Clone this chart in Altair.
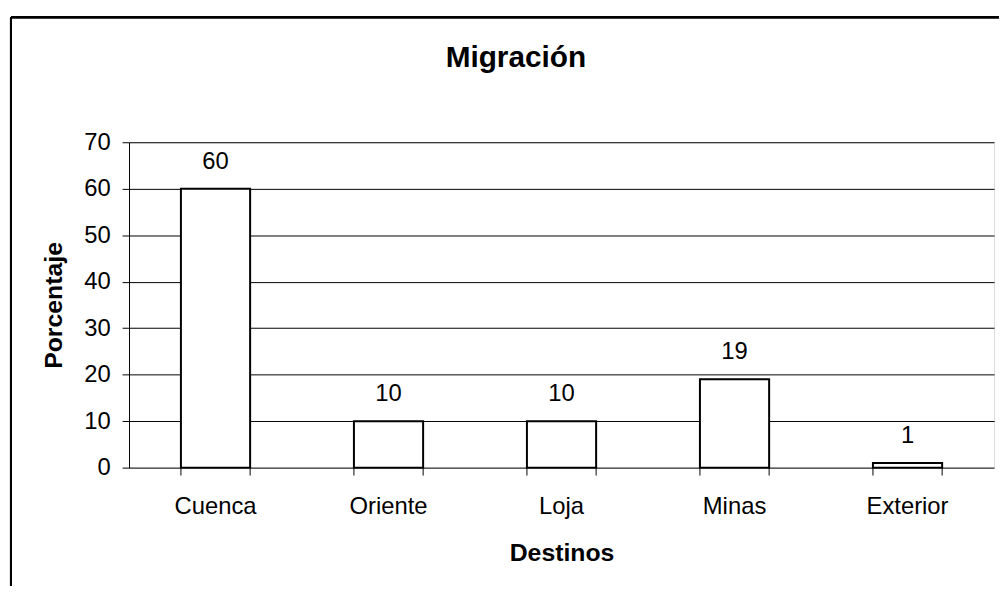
import altair as alt
import pandas as pd

categories = ["Cuenca", "Oriente", "Loja", "Minas", "Exterior"]
values = [60, 10, 10, 19, 1]
y_ticks = [0, 10, 20, 30, 40, 50, 60, 70]

df = pd.DataFrame({"Destino": categories, "Porcentaje": values})

FONT = "Liberation Sans"
W, H = 872, 328

xscale = alt.Scale(domain=categories, paddingInner=0.6, paddingOuter=0.3)
yscale = alt.Scale(domain=[0, 70], nice=False)

base = alt.Chart(df)

bars = base.mark_bar(fill="white", stroke="black", strokeWidth=2).encode(
    x=alt.X("Destino:N", scale=xscale, sort=categories,
            axis=alt.Axis(title="Destinos", labelAngle=0, ticks=False, domain=False,
                          labelFontSize=24, labelFont=FONT, labelColor="black",
                          labelPadding=27, titleFontSize=25, titleFont=FONT,
                          titleFontWeight="bold", titleColor="black", titlePadding=23)),
    y=alt.Y("Porcentaje:Q", scale=yscale,
            axis=alt.Axis(title="Porcentaje", values=y_ticks, grid=True, gridColor="black",
                          gridOpacity=1, gridWidth=1, domain=True, domainColor="black",
                          domainWidth=1, tickColor="black", tickSize=7, tickWidth=1,
                          labelFontSize=24, labelFont=FONT, labelColor="black",
                          labelPadding=12, titleFontSize=25, titleFont=FONT,
                          titleFontWeight="bold", titleColor="black", titlePadding=17)),
)

labels = base.mark_text(font=FONT, fontSize=24, color="black", baseline="alphabetic",
                        dy=-20).encode(
    x=alt.X("Destino:N", scale=xscale, sort=categories),
    y=alt.Y("Porcentaje:Q", scale=yscale),
    text=alt.Text("Porcentaje:Q"),
)

ticks_left = base.mark_rule(color="black", strokeWidth=1).encode(
    x=alt.X("Destino:N", scale=xscale, sort=categories, bandPosition=0),
    y=alt.value(H),
    y2=alt.value(H + 8),
)
ticks_right = base.mark_rule(color="black", strokeWidth=1).encode(
    x=alt.X("Destino:N", scale=xscale, sort=categories, bandPosition=1),
    y=alt.value(H),
    y2=alt.value(H + 8),
)

frame_top = base.mark_rule(color="black", strokeWidth=2).encode(
    x=alt.value(-119), x2=alt.value(W + 20), y=alt.value(-126)
)
frame_left = base.mark_rule(color="black", strokeWidth=2).encode(
    x=alt.value(-119), y=alt.value(-126), y2=alt.value(H + 140)
)

chart = alt.layer(bars, labels, ticks_left, ticks_right, frame_top, frame_left).properties(
    width=W,
    height=H,
    autosize=alt.AutoSizeParams(type="none"),
    padding={"left": 122, "top": 133, "right": 5, "bottom": 117},
    title=alt.TitleParams("Migración", font=FONT, fontSize=30, fontWeight="bold",
                          color="black", anchor="middle", frame="group", dx=-46,
                          baseline="bottom", offset=-87),
).configure_view(stroke="black", strokeWidth=1).configure(background="white")

chart.save("out.html", embed_options={"renderer": "svg", "actions": False})
